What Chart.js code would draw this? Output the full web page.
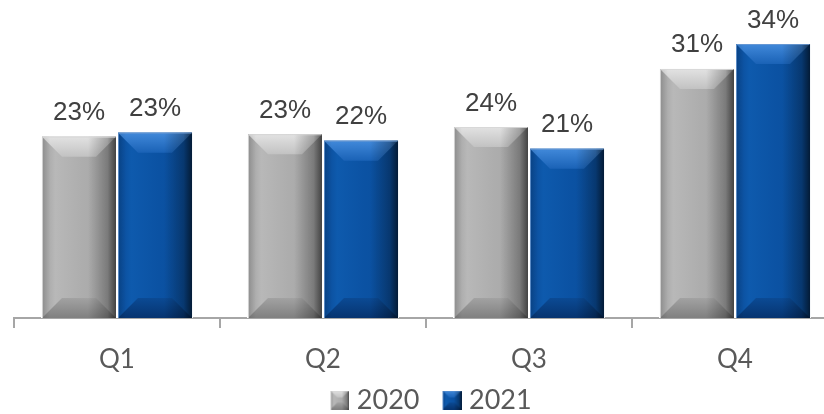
<!DOCTYPE html>
<html>
<head>
<meta charset="utf-8">
<script src="https://cdn.jsdelivr.net/npm/chart.js@4.4.1/dist/chart.umd.min.js"></script>
<style>
  html, body { margin: 0; padding: 0; background: #fff; overflow: hidden; }
  #wrap { width: 840px; height: 414px; }
</style>
</head>
<body>
<div id="wrap"><canvas id="chart" width="840" height="414"></canvas></div>
<script>
// values (percent share per quarter)
var quarters = ['Q1', 'Q2', 'Q3', 'Q4'];
var seriesNames = ['2020', '2021'];
var share2020 = [22.5, 22.8, 23.7, 30.9];
var share2021 = [23.0, 22.0, 21.0, 34.0];

var palettes = [
  { // grey
    face: ['#a0a0a0', '#b8b8b8', '#adadad', '#a6a6a6'],
    top: ['#e2e2e2', '#c2c2c2'],
    bottom: ['#a2a2a2', '#808080'],
    edge: 'rgba(215,215,215,0.9)',
    shade: 0.6
  },
  { // blue
    face: ['#0a4a96', '#0e5aad', '#0b52a3', '#0a4e9c'],
    top: ['#4189da', '#1a62b6'],
    bottom: ['#0b4a94', '#063470'],
    edge: 'rgba(110,155,210,0.8)',
    shade: 0.65
  }
];

function poly(ctx, pts, fill) {
  ctx.beginPath();
  ctx.moveTo(pts[0][0], pts[0][1]);
  for (var i = 1; i < pts.length; i++) ctx.lineTo(pts[i][0], pts[i][1]);
  ctx.closePath();
  ctx.fillStyle = fill;
  ctx.fill();
}

function drawBevel(ctx, x0, y0, x1, y1, pal, b) {
  var w = x1 - x0, h = y1 - y0;
  if (w <= 0 || h <= 0) return;
  b = Math.min(b, w / 2, h / 2);
  ctx.save();
  var g = ctx.createLinearGradient(x0, 0, x1, 0);
  g.addColorStop(0, pal.face[0]);
  g.addColorStop(0.18, pal.face[1]);
  g.addColorStop(0.55, pal.face[2]);
  g.addColorStop(1, pal.face[3]);
  ctx.fillStyle = g;
  ctx.fillRect(x0, y0, w, h);

  var gt = ctx.createLinearGradient(0, y0, 0, y0 + b);
  gt.addColorStop(0, pal.top[0]);
  gt.addColorStop(1, pal.top[1]);
  poly(ctx, [[x0, y0], [x1, y0], [x1 - b, y0 + b], [x0 + b, y0 + b]], gt);

  var gb = ctx.createLinearGradient(0, y1 - b, 0, y1);
  gb.addColorStop(0, pal.bottom[0]);
  gb.addColorStop(1, pal.bottom[1]);
  poly(ctx, [[x0, y1], [x1, y1], [x1 - b, y1 - b], [x0 + b, y1 - b]], gb);

  // darker right side, slight shade at left edge
  var sw = Math.min(w * 0.4, b * 1.4);
  var gr = ctx.createLinearGradient(x1 - sw, 0, x1, 0);
  gr.addColorStop(0, 'rgba(0,0,0,0)');
  gr.addColorStop(0.7, 'rgba(0,0,0,' + (pal.shade * 0.45) + ')');
  gr.addColorStop(1, 'rgba(0,0,0,' + pal.shade + ')');
  ctx.fillStyle = gr;
  ctx.fillRect(x1 - sw, y0, sw, h);
  var gl = ctx.createLinearGradient(x0, 0, x0 + b * 0.4, 0);
  gl.addColorStop(0, 'rgba(0,0,0,0.12)');
  gl.addColorStop(1, 'rgba(0,0,0,0)');
  ctx.fillStyle = gl;
  ctx.fillRect(x0, y0, b * 0.4, h);

  ctx.strokeStyle = pal.edge;
  ctx.lineWidth = 1;
  ctx.beginPath();
  ctx.moveTo(x0 + 0.5, y1);
  ctx.lineTo(x0 + 0.5, y0 + 0.5);
  ctx.lineTo(x1 - 0.5, y0 + 0.5);
  ctx.stroke();
  ctx.restore();
}

// small bevelled squares for the legend (drawn right of centre inside a wider canvas)
function legendSwatch(pal) {
  var c = document.createElement('canvas');
  c.width = 35;
  c.height = 19;
  drawBevel(c.getContext('2d'), 16, 0, 35, 19, pal, 7);
  return c;
}
var swatches = [legendSwatch(palettes[0]), legendSwatch(palettes[1])];

var bevelPlugin = {
  id: 'bevelBars',
  afterDatasetsDraw: function (chart) {
    var ctx = chart.ctx;
    chart.data.datasets.forEach(function (ds, di) {
      var meta = chart.getDatasetMeta(di);
      meta.data.forEach(function (bar, i) {
        var x0 = bar.x - bar.width / 2 + 1;
        var x1 = bar.x + bar.width / 2 - 1;
        drawBevel(ctx, x0, bar.y, x1, bar.base, palettes[di], 20);
        ctx.save();
        ctx.font = '26px "Liberation Sans", Arial, sans-serif';
        ctx.fillStyle = '#404040';
        ctx.textAlign = 'center';
        ctx.textBaseline = 'alphabetic';
        ctx.fillText(Math.round(ds.data[i]) + '%', bar.x, bar.y - 16.5);
        ctx.restore();
      });
    });
  }
};

var ctx = document.getElementById('chart');
new Chart(ctx, {
  type: 'bar',
  data: {
    labels: quarters,
    datasets: [
      {
        label: seriesNames[0],
        data: share2020,
        backgroundColor: '#adadad',
        borderColor: '#ffffff',
        borderWidth: { left: 1, right: 1, top: 0, bottom: 0 },
        borderSkipped: false
      },
      {
        label: seriesNames[1],
        data: share2021,
        backgroundColor: '#0b52a3',
        borderColor: '#ffffff',
        borderWidth: { left: 1, right: 1, top: 0, bottom: 0 },
        borderSkipped: false
      }
    ]
  },
  options: {
    responsive: false,
    animation: false,
    devicePixelRatio: 1,
    categoryPercentage: 0.738,
    barPercentage: 1,
    layout: { padding: { left: 14, right: 2, top: 0, bottom: 0 } },
    scales: {
      x: {
        z: 1,
        afterFit: function (scale) { scale.height = 55.5; },
        grid: {
          display: true,
          offset: true,
          drawOnChartArea: false,
          drawTicks: true,
          tickLength: 10,
          color: '#a6a6a6',
          lineWidth: 2
        },
        border: { display: true, color: '#a6a6a6', width: 2 },
        ticks: {
          padding: 16,
          color: '#595959',
          font: { family: 'Lato, "Open Sans", sans-serif', size: 26 }
        }
      },
      y: {
        display: false,
        min: 0,
        max: 39.46
      }
    },
    plugins: {
      tooltip: { enabled: false },
      legend: {
        position: 'bottom',
        align: 'center',
        maxHeight: 40.5,
        labels: {
          usePointStyle: true,
          pointStyleWidth: 23,
          padding: 13,
          color: '#595959',
          font: { family: 'Lato, "Open Sans", sans-serif', size: 27 },
          generateLabels: function (chart) {
            return chart.data.datasets.map(function (ds, i) {
              return {
                text: ds.label,
                pointStyle: swatches[i],
                fillStyle: ds.backgroundColor,
                strokeStyle: 'transparent',
                lineWidth: 0,
                hidden: false,
                datasetIndex: i,
                fontColor: '#595959'
              };
            });
          }
        }
      }
    }
  },
  plugins: [bevelPlugin]
});
</script>
</body>
</html>
